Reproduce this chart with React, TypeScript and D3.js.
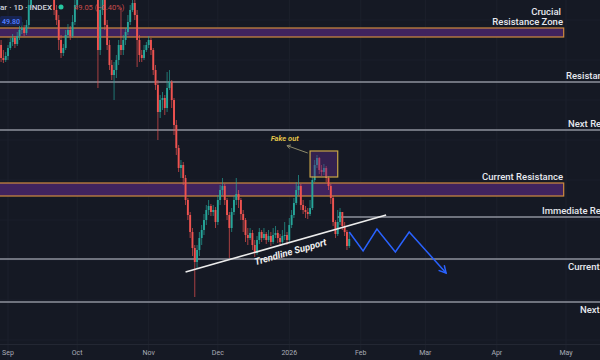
import React from 'react';
import * as d3 from 'd3';

const W = 600;
const H = 360;

// Daily candles starting 2025-08-29 (open of each = previous close)
const firstDate = Date.UTC(2025, 7, 29);
const firstOpen = 58.75;
const closes = [
  58.10, 58.00, 58.20, 58.60, 58.90, 59.10, 58.80, 59.20, 59.50, 59.60,
  59.35, 59.75, 60.75, 61.75, 62.50, 62.10, 63.00, 62.75, 62.40, 63.25,
  62.60, 62.00, 61.40, 60.50, 60.00, 59.00, 58.35, 58.60, 59.25, 59.50,
  59.20, 59.90, 60.75, 62.00, 62.75, 62.25, 63.25, 62.90, 62.50, 62.10,
  61.60, 61.25, 58.50, 60.50, 61.00, 59.75, 58.75, 57.75, 57.25, 57.50,
  58.00, 58.75, 58.50, 59.00, 59.40, 59.90, 60.50, 60.85, 60.25, 59.00,
  58.25, 58.10, 58.50, 58.75, 59.00, 58.50, 57.50, 56.75, 55.40, 56.00,
  56.10, 55.60, 56.60, 56.90, 56.00, 54.75, 53.60, 52.60, 52.75, 52.10,
  51.00, 50.25, 49.40, 48.60, 47.90, 48.50, 49.10, 49.50, 50.00, 50.50,
  50.70, 50.40, 50.50, 49.90, 51.00, 51.50, 51.70, 51.00, 50.25, 49.60,
  50.40, 51.00, 51.30, 51.00, 50.30, 50.00, 49.25, 49.10, 49.35, 48.75,
  48.35, 49.00, 49.40, 49.10, 49.30, 49.00, 49.20, 48.90, 49.25, 49.35,
  49.10, 48.90, 49.20, 49.25, 49.00, 49.75, 50.25, 50.85, 51.50, 51.70,
  50.75, 50.50, 50.40, 50.30, 50.60, 52.00, 52.75, 53.10, 52.50, 52.40,
  52.60, 52.10, 51.70, 51.10, 49.90, 49.30, 49.90, 50.40, 49.70, 49.40,
  48.70, 49.05,
];
const highs = [
  59.00, 58.50, 58.40, 58.75, 59.10, 59.30, 59.20, 59.40, 59.70, 59.90,
  59.75, 60.00, 61.50, 62.00, 62.80, 62.70, 63.30, 63.20, 62.90, 63.50,
  63.40, 62.80, 62.20, 61.50, 60.75, 60.25, 59.25, 58.80, 59.50, 59.80,
  59.70, 60.25, 61.25, 62.30, 63.00, 62.90, 63.50, 63.40, 63.10, 62.70,
  62.30, 61.90, 61.50, 61.25, 61.50, 61.25, 60.00, 59.00, 58.00, 57.90,
  58.25, 59.00, 60.60, 59.25, 59.60, 60.25, 60.75, 61.25, 61.00, 60.50,
  59.25, 58.50, 58.75, 58.90, 59.20, 59.10, 58.60, 57.75, 57.00, 56.25,
  56.40, 56.25, 57.40, 57.50, 57.00, 56.10, 55.00, 53.75, 53.00, 52.90,
  52.25, 51.10, 50.40, 49.60, 48.75, 48.75, 49.40, 49.75, 50.30, 50.75,
  51.00, 50.80, 50.75, 50.65, 51.25, 51.75, 52.10, 51.80, 51.10, 50.40,
  50.60, 51.20, 52.10, 51.50, 51.10, 50.50, 50.10, 49.60, 49.60, 49.50,
  49.00, 49.20, 49.60, 49.50, 49.60, 49.40, 49.50, 49.40, 49.60, 49.70,
  49.50, 49.30, 49.50, 49.90, 49.40, 50.10, 50.50, 51.10, 51.90, 52.25,
  51.80, 51.00, 50.70, 50.60, 51.00, 52.20, 53.00, 53.25, 53.15, 52.75,
  52.80, 52.70, 52.20, 51.80, 51.20, 50.00, 50.50, 50.60, 50.40, 49.90,
  49.50, 49.40,
];
const lows = [
  57.90, 57.85, 57.90, 58.00, 58.50, 58.70, 58.60, 58.70, 59.00, 59.30,
  59.20, 59.25, 59.60, 60.60, 61.60, 61.90, 61.90, 62.50, 62.20, 62.30,
  62.40, 61.80, 61.20, 60.25, 59.75, 58.50, 58.10, 58.20, 58.50, 59.10,
  59.00, 59.10, 59.75, 60.60, 61.80, 62.00, 62.10, 62.70, 62.30, 61.90,
  61.40, 61.05, 56.60, 58.25, 60.25, 59.50, 58.50, 57.50, 57.00, 56.00,
  57.10, 57.75, 58.25, 58.25, 58.75, 59.25, 59.75, 60.40, 60.00, 57.65,
  57.90, 57.90, 58.00, 58.40, 58.60, 58.25, 57.25, 56.50, 54.00, 55.10,
  55.50, 55.25, 55.40, 56.50, 55.60, 54.25, 53.25, 52.40, 52.10, 51.75,
  50.75, 50.00, 49.10, 48.20, 46.15, 47.60, 48.20, 48.75, 49.25, 49.75,
  50.25, 50.20, 50.20, 49.60, 49.75, 50.75, 51.25, 50.75, 50.00, 48.10,
  49.40, 50.25, 50.75, 50.60, 50.00, 49.40, 48.90, 48.75, 49.00, 48.50,
  48.15, 48.25, 48.80, 48.90, 49.00, 48.80, 48.90, 48.70, 48.80, 49.10,
  48.85, 48.70, 48.80, 49.00, 48.75, 48.90, 49.60, 50.10, 50.75, 51.25,
  50.50, 50.30, 50.10, 50.05, 50.20, 50.50, 51.90, 52.60, 52.30, 52.20,
  52.25, 51.90, 51.50, 50.80, 49.70, 49.10, 49.20, 49.75, 49.50, 49.20,
  48.50, 48.60,
];

// Time axis
const monthTicks = ['2025-09-01', '2025-10-01', '2025-11-01', '2025-12-01', '2026-01-01', '2026-02-01', '2026-03-01', '2026-04-01', '2026-05-01'];
const monthLabels = ['Sep', 'Oct', 'Nov', 'Dec', '2026', 'Feb', 'Mar', 'Apr', 'May'];

// Zones (price bands)
const zoneLabels = [['Crucial', 'Resistance Zone'], ['Current Resistance']];
const zoneTops = [59.6, 51.85];
const zoneBottoms = [59.15, 51.2];
const zoneEnd = '2026-04-30';

// Horizontal levels
const levelNames = ['Resistance', 'Next Resistance', 'Immediate Resistance', 'Current Support', 'Next Support'];
const levelPrices = [56.9, 54.5, 50.15, 48.05, 45.9];
const levelStarts = [null, null, '2026-01-22', null, null];
const levelLabelX = [566, 568, 542, 568, 580];
const levelLabelBelow = [false, false, false, true, true];

// Trendline
const trendDates = ['2025-11-17', '2026-02-12'];
const trendPrices = [47.4, 50.25];

// Projection zigzag
const zigDates = ['2026-01-27', '2026-02-02', '2026-02-08', '2026-02-16', '2026-02-22', '2026-03-10'];
const zigPrices = [49.4, 48.45, 49.55, 48.4, 49.4, 47.35];

// Fake out box + arrow
const fakeDates = ['2026-01-10', '2026-01-22'];
const fakePrices = [53.45, 52.15];
const fakeArrowDates = ['2026-01-09', '2025-12-31'];
const fakeArrowPrices = [53.35, 53.72];
const fakeLabelDate = '2025-12-30';
const fakeLabelPrice = 53.95;

const d = (s: string) => new Date(s + 'T00:00:00Z');

export default function App() {
  const x = d3.scaleUtc().domain([d('2025-09-01'), d('2026-05-01')]).range([8, 566]);
  const y = d3.scaleLinear().domain([43, 61]).range([H, 0]);

  const candles = closes.map((c, i) => ({
    date: d3.utcDay.offset(new Date(firstDate), i),
    open: i === 0 ? firstOpen : closes[i - 1],
    close: c,
    high: highs[i],
    low: lows[i],
  }));

  const up = '#26a69a';
  const down = '#ef5350';
  const bw = 1.9;
  const font = 'Roboto, "Noto Sans", sans-serif';

  const tx0 = x(d(trendDates[0])), ty0 = y(trendPrices[0]);
  const tx1 = x(d(trendDates[1])), ty1 = y(trendPrices[1]);
  const ang = (Math.atan2(ty1 - ty0, tx1 - tx0) * 180) / Math.PI;
  const t = 0.51;
  const mx = tx0 + (tx1 - tx0) * t, my = ty0 + (ty1 - ty0) * t;
  const len = Math.hypot(tx1 - tx0, ty1 - ty0);
  const nx = -(ty1 - ty0) / len, ny = (tx1 - tx0) / len;
  const off = 10;

  const zigLine = d3.line<[number, number]>()(zigDates.map((s, i) => [x(d(s)), y(zigPrices[i])]));
  const arrowHead = (xa: number, ya: number, xb: number, yb: number, size: number) => {
    const a = Math.atan2(yb - ya, xb - xa);
    const p1 = [xb - size * Math.cos(a - 0.5), yb - size * Math.sin(a - 0.5)];
    const p2 = [xb - size * Math.cos(a + 0.5), yb - size * Math.sin(a + 0.5)];
    return `M${p1[0]},${p1[1]}L${xb},${yb}L${p2[0]},${p2[1]}`;
  };
  const zn = zigDates.length;
  const zA = [x(d(zigDates[zn - 2])), y(zigPrices[zn - 2])];
  const zB = [x(d(zigDates[zn - 1])), y(zigPrices[zn - 1])];

  const fa = [x(d(fakeArrowDates[0])), y(fakeArrowPrices[0])];
  const fb = [x(d(fakeArrowDates[1])), y(fakeArrowPrices[1])];

  return (
    <svg width={W} height={H} style={{ position: 'fixed', left: 0, top: 0, display: 'block' }} fontFamily={font}>
      <rect width={W} height={H} fill="#151924" />
      {/* grid */}
      {monthTicks.map((m) => (
        <line key={m} x1={x(d(m))} x2={x(d(m))} y1={0} y2={H} stroke="#1d212c" strokeWidth={1} />
      ))}
      {d3.range(44, 61, 2).map((p) => (
        <line key={p} x1={0} x2={W} y1={y(p)} y2={y(p)} stroke="#1b1f2a" strokeWidth={1} />
      ))}
      <line x1={0} x2={W} y1={344.5} y2={344.5} stroke="#232733" strokeWidth={1} />

      {/* zones */}
      {zoneTops.map((top, i) => (
        <rect key={i} x={-2} y={y(top)} width={x(d(zoneEnd)) + 2} height={y(zoneBottoms[i]) - y(top)}
          fill="#40235e" stroke="#d08a3e" strokeWidth={1.2} />
      ))}

      {/* levels */}
      {levelPrices.map((p, i) => (
        <line key={i} x1={levelStarts[i] ? x(d(levelStarts[i] as string)) : 0} x2={W}
          y1={y(p)} y2={y(p)} stroke="#8e929c" strokeWidth={1.3} />
      ))}

      {/* candles */}
      {candles.map((c, i) => {
        const col = c.close >= c.open ? up : down;
        const cx = x(c.date);
        const top = y(Math.max(c.open, c.close));
        const bot = y(Math.min(c.open, c.close));
        return (
          <g key={i}>
            <line x1={cx} x2={cx} y1={y(c.high)} y2={y(c.low)} stroke={col} strokeWidth={0.8} opacity={0.85} />
            <rect x={cx - bw / 2} y={top} width={bw} height={Math.max(0.8, bot - top)} fill={col} />
          </g>
        );
      })}

      {/* fake out box */}
      <rect x={x(d(fakeDates[0]))} y={y(fakePrices[0])} width={x(d(fakeDates[1])) - x(d(fakeDates[0]))}
        height={y(fakePrices[1]) - y(fakePrices[0])} fill="#5a2f86" fillOpacity={0.45} stroke="#c9a646" strokeWidth={1.2} />
      <line x1={fa[0]} y1={fa[1]} x2={fb[0]} y2={fb[1]} stroke="#8d8a6c" strokeWidth={1} />
      <path d={arrowHead(fa[0], fa[1], fb[0], fb[1], 4)} fill="none" stroke="#8d8a6c" strokeWidth={1} />
      <text x={x(d(fakeLabelDate))} y={y(fakeLabelPrice)} fill="#e8c94a" fontSize={7.5} fontStyle="italic" fontWeight={600} textAnchor="middle">Fake out</text>

      {/* trendline */}
      <line x1={tx0} y1={ty0} x2={tx1} y2={ty1} stroke="#ececec" strokeWidth={1.6} />
      <text transform={`translate(${mx + nx * off},${my + ny * off}) rotate(${ang})`} textAnchor="middle"
        dominantBaseline="middle" fill="#f0f0f0" fontSize={9.5} fontStyle="italic" fontWeight={700}>Trendline Support</text>

      {/* projection */}
      <path d={zigLine as string} fill="none" stroke="#2962ff" strokeWidth={1.5} strokeLinejoin="miter" />
      <path d={arrowHead(zA[0], zA[1], zB[0], zB[1], 8)} fill="none" stroke="#2962ff" strokeWidth={1.5} />

      {/* zone labels */}
      <text x={561} y={y(zoneTops[0]) - 13} fill="#e6e8ee" fontSize={9.5} fontWeight={500} textAnchor="end">{zoneLabels[0][0]}</text>
      <text x={563} y={y(zoneTops[0]) - 3} fill="#e6e8ee" fontSize={9.5} fontWeight={500} textAnchor="end">{zoneLabels[0][1]}</text>
      <text x={563} y={y(zoneTops[1]) - 3} fill="#e6e8ee" fontSize={9.5} fontWeight={500} textAnchor="end">{zoneLabels[1][0]}</text>

      {/* level labels */}
      {levelNames.map((n, i) => (
        <text key={n} x={levelLabelX[i]} y={y(levelPrices[i]) + (levelLabelBelow[i] ? 11 : -3)} fill="#e6e8ee"
          fontSize={9.5} fontWeight={500}>{n}</text>
      ))}

      {/* time axis */}
      {monthTicks.map((m, i) => (
        <text key={m} x={x(d(m))} y={355} fill="#a9acb6" fontSize={7} textAnchor="middle">{monthLabels[i]}</text>
      ))}

      {/* legend header */}
      <text x={0} y={10} fill="#d1d4dc" fontSize={8} fontWeight={500}>ar · 1D · INDEX</text>
      <circle cx={61} cy={7} r={2.5} fill="#26c6a0" />
      <text x={74} y={10} fill="#f05a55" fontSize={7.5} opacity={0.8}>49.05 (−0.40%)</text>
      <rect x={0} y={16} width={22} height={10} rx={1.5} fill="#172452" />
      <text x={2} y={24} fill="#4f7dff" fontSize={7} fontWeight={600}>49.80</text>
    </svg>
  );
}
